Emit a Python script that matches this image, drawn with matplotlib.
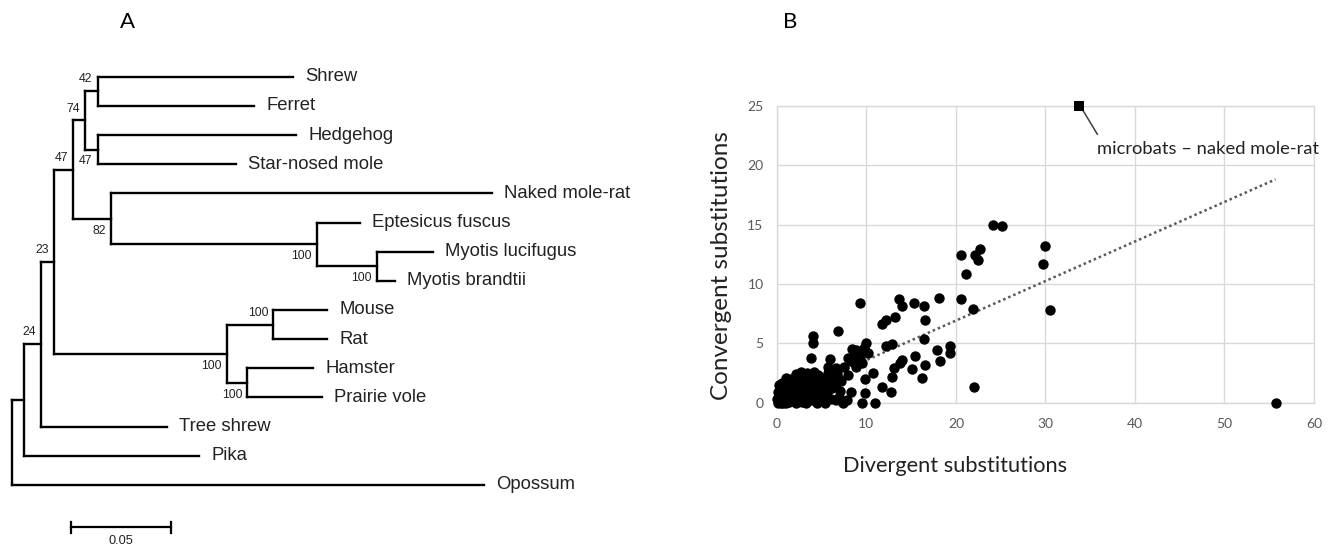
import matplotlib.pyplot as plt
from matplotlib.collections import LineCollection

# ---- panel A: tree ----
tip_labels = ['Shrew', 'Ferret', 'Hedgehog', 'Star-nosed mole', 'Naked mole-rat',
              'Eptesicus fuscus', 'Myotis lucifugus', 'Myotis brandtii', 'Mouse', 'Rat',
              'Hamster', 'Prairie vole', 'Tree shrew', 'Pika', 'Opossum']
tip_branch = [0.0974, 0.0779, 0.0989, 0.0689, 0.1898, 0.0216, 0.0281, 0.0091,
              0.0268, 0.0268, 0.0329, 0.0371, 0.0627, 0.0872, 0.2354]

node_ids = ['ShFe', 'HeSt', 'n74', 'Myo', 'Bat', 'n82', 'n47', 'MoRa', 'HaVo',
            'Rod', 'n23', 'n24', 'n4', 'root']
node_children = [('Shrew', 'Ferret'), ('Hedgehog', 'Star-nosed mole'), ('ShFe', 'HeSt'),
                 ('Myotis lucifugus', 'Myotis brandtii'), ('Eptesicus fuscus', 'Myo'),
                 ('Naked mole-rat', 'Bat'), ('n74', 'n82'), ('Mouse', 'Rat'),
                 ('Hamster', 'Prairie vole'), ('MoRa', 'HaVo'), ('n47', 'Rod'),
                 ('n23', 'Tree shrew'), ('n24', 'Pika'), ('n4', 'Opossum')]
node_branch = [0.0063, 0.0063, 0.0058, 0.0299, 0.1025, 0.0188, 0.0095, 0.0232,
               0.0103, 0.0859, 0.0066, 0.0085, 0.0061, 0.0]
node_boot = [42, 47, 74, 100, 100, 82, 47, 100, 100, 100, 23, 24, None, None]

scale_len = 0.05

# ---- panel B: scatter ----
div_subs = [55.7, 30.5, 30.0, 29.7, 24.1, 25.2, 22.7, 22.1, 22.5, 20.6, 21.1, 20.6, 21.9, 22.0,
            18.1, 13.6, 14.0, 15.3, 16.4, 16.6, 13.2, 12.2, 11.8, 16.4, 9.3, 6.8, 4.0, 4.0,
            3.8, 10.0, 9.7, 10.2, 8.4, 9.3, 12.2, 12.9, 19.3, 19.4, 17.9, 18.2, 15.4, 14.0,
            13.8, 15.1, 16.6, 16.2, 13.1, 12.9, 11.8, 12.8, 10.7, 9.8, 9.8, 9.5, 11.0, 8.3,
            7.1, 7.9, 6.7, 7.5, 5.7, 5.9, 8.0, 8.7, 8.9, 5.6, 6.2, 4.8, 7.8, 6.6,
            9.3, 8.9, 8.5, 9.0, 8.6, 9.5, 8.2,
            0.1, 0.3, 0.5, 0.2, 0.4, 0.3, 0.6, 0.9, 0.8, 1.0, 1.2, 1.3, 1.5, 1.4, 1.8,
            1.9, 2.0, 2.1, 2.3, 2.4, 2.5, 2.6, 2.8, 2.9, 3.0, 3.1, 3.2, 3.3, 3.4, 3.5,
            3.6, 3.8, 3.9, 4.0, 4.1, 4.2, 4.4, 4.5, 4.6, 4.7, 5.0, 5.1, 5.3, 5.4, 5.6,
            5.9, 6.0, 6.3, 6.5, 6.9, 7.2, 7.4, 0.1, 0.0, 0.6, 1.1, 1.6, 2.2, 2.7, 3.7,
            4.3, 4.9, 5.7, 6.6, 7.0, 1.0, 2.0, 0.7, 1.7, 2.9, 3.6, 4.4, 5.2]
conv_subs = [0.0, 7.8, 13.2, 11.7, 15.0, 14.9, 12.9, 12.4, 12.0, 12.4, 10.8, 8.7, 7.9, 1.35,
             8.8, 8.7, 8.1, 8.4, 8.1, 7.0, 7.2, 7.0, 6.6, 5.4, 8.4, 6.0, 5.6, 5.0,
             3.8, 5.05, 4.6, 4.2, 4.5, 4.3, 4.8, 4.9, 4.8, 4.2, 4.4, 3.5, 3.9, 3.6,
             3.3, 2.8, 3.2, 2.1, 2.9, 2.2, 1.3, 0.9, 2.5, 2.0, 0.85, 0.0, 0.0, 0.9,
             1.0, 2.3, 2.5, 3.0, 3.0, 3.7, 3.8, 3.7, 3.0, 1.35, 1.2, 0.2, 0.2, 0.2,
             3.7, 4.4, 3.45, 4.0, 4.0, 3.3, 3.6,
             0.0, 0.2, 0.0, 0.6, 1.0, 1.5, 1.7, 1.2, 0.5, 0.0, 0.3, 0.9, 1.5, 0.1, 0.6,
             1.9, 1.1, 0.0, 0.4, 2.2, 1.4, 0.8, 0.1, 1.8, 2.4, 0.5, 1.1, 0.0, 2.5, 1.6,
             0.7, 2.1, 0.2, 1.3, 2.6, 0.9, 1.8, 0.0, 2.3, 1.0, 1.6, 0.5, 2.0, 0.0, 0.9,
             1.8, 0.3, 2.2, 1.5, 0.5, 1.8, 0.0, 0.9, 0.3, 0.3, 1.6, 2.0, 2.4, 2.6, 1.3,
             0.4, 2.1, 2.5, 2.9, 2.0, 2.1, 1.6, 0.0, 0.6, 0.8, 1.4, 1.2, 0.4]
pair_x, pair_y = 33.7, 25.0
pair_label = 'microbats – naked mole-rat'
trend_slope, trend_intercept = 0.333, 0.25

W, H = 1331, 548
fig = plt.figure(figsize=(W / 100, H / 100), dpi=100)

# tree axes: 1 branch unit = 2006 px, root at x=11.7 px, tips 29.16 px apart from y=76.7 px
px_unit, root_px, tip0_px, tip_step = 2006, 11.7, 76.7, 29.16
axA = fig.add_axes([0, 0, 700 / W, 1])
axA.set_xlim(-root_px / px_unit, (700 - root_px) / px_unit)
axA.set_ylim((H - tip0_px) / tip_step, -tip0_px / tip_step)
axA.axis('off')

children = dict(zip(node_ids, node_children))
branch = dict(zip(tip_labels, tip_branch))
branch.update(zip(node_ids, node_branch))
boot = dict(zip(node_ids, node_boot))
xpos, ypos = {}, {}
for i, t in enumerate(tip_labels):
    ypos[t] = i


def place(n, x0):
    xpos[n] = x0 + branch[n]
    if n in children:
        for c in children[n]:
            place(c, xpos[n])
        ys = [ypos[c] for c in children[n]]
        ypos[n] = (min(ys) + max(ys)) / 2


place('root', 0.0)

segs = []
for n, ch in children.items():
    segs.append([(xpos[n], ypos[ch[0]]), (xpos[n], ypos[ch[1]])])
    for c in ch:
        segs.append([(xpos[n], ypos[c]), (xpos[c], ypos[c])])
axA.add_collection(LineCollection(segs, colors='black', linewidths=1.7,
                                  capstyle='projecting'))

for t in tip_labels:
    axA.text(xpos[t] + 0.0062, ypos[t], t, va='center', ha='left',
             fontsize=13.3, family='Liberation Sans', color='#222222')

below = {'HeSt', 'n82', 'Bat', 'Myo', 'Rod', 'HaVo'}
for n in node_ids:
    if boot[n] is None:
        continue
    dy = -8.5 if n in below else 8.5
    axA.annotate(str(boot[n]), (xpos[n], ypos[n]), xytext=(-3.5, dy),
                 textcoords='offset points', ha='right', va='center',
                 fontsize=8.8, family='Liberation Sans', color='#222222')

sb_x, sb_y = (70.7 - root_px) / px_unit, (527.3 - tip0_px) / tip_step
axA.plot([sb_x, sb_x + scale_len], [sb_y, sb_y], color='black', lw=1.6)
for xx in (sb_x, sb_x + scale_len):
    axA.plot([xx, xx], [sb_y - 0.19, sb_y + 0.19], color='black', lw=1.6)
axA.text(sb_x + scale_len / 2, sb_y + 0.47, f'{scale_len:.2f}', ha='center', va='center',
         fontsize=9.2, family='Liberation Sans', color='#222222')

# scatter axes
x0, x1, y0, y1 = 776.8, 1314.0, 105.7, 402.7
axB = fig.add_axes([x0 / W, (H - y1) / H, (x1 - x0) / W, (y1 - y0) / H])
axB.set_xlim(0, 60)
axB.set_ylim(0, 25)
axB.set_xticks(range(0, 61, 10))
axB.set_yticks(range(0, 26, 5))
axB.grid(True, color='#d9d9d9', lw=1.0)
axB.set_axisbelow(True)
for s in axB.spines.values():
    s.set_color('#d9d9d9')
    s.set_linewidth(1.0)
axB.tick_params(length=0, labelcolor='#595959', labelsize=10)
axB.tick_params(axis='x', pad=11)
axB.tick_params(axis='y', pad=9.5)
for lab in axB.get_xticklabels() + axB.get_yticklabels():
    lab.set_family('Lato')

xmax = max(div_subs)
axB.plot([0, xmax], [trend_intercept, trend_intercept + trend_slope * xmax],
         ls=(0, (1, 1.2)), color='#595959', lw=1.8, zorder=2)
axB.scatter(div_subs, conv_subs, s=56, c='black', clip_on=False, zorder=3, linewidths=0)
axB.scatter([pair_x], [pair_y], s=56, marker='s', c='black', clip_on=False, zorder=3,
            linewidths=0)
axB.plot([34.2, 35.8], [24.6, 22.6], color='#404040', lw=1.1)
axB.text(35.75, 21.35, pair_label, ha='left', va='center', fontsize=13.2,
         family='Lato', color='#222222')

axB.set_xlabel('Divergent substitutions', fontsize=15.7, family='Lato', color='#222222')
axB.set_ylabel('Convergent substitutions', fontsize=17.5, family='Lato', color='#222222')
axB.xaxis.set_label_coords((955 - x0) / (x1 - x0), (y1 - 466) / (y1 - y0))
axB.yaxis.set_label_coords((722 - x0) / (x1 - x0), (y1 - 266) / (y1 - y0))
axB.xaxis.label.set_va('center')
axB.yaxis.label.set_va('center')

fig.text(127 / W, 1 - 22 / H, 'A', ha='center', va='center', fontsize=16, family='Lato')
fig.text(790 / W, 1 - 22 / H, 'B', ha='center', va='center', fontsize=16, family='Lato')

fig.savefig('out.png', dpi=100)
